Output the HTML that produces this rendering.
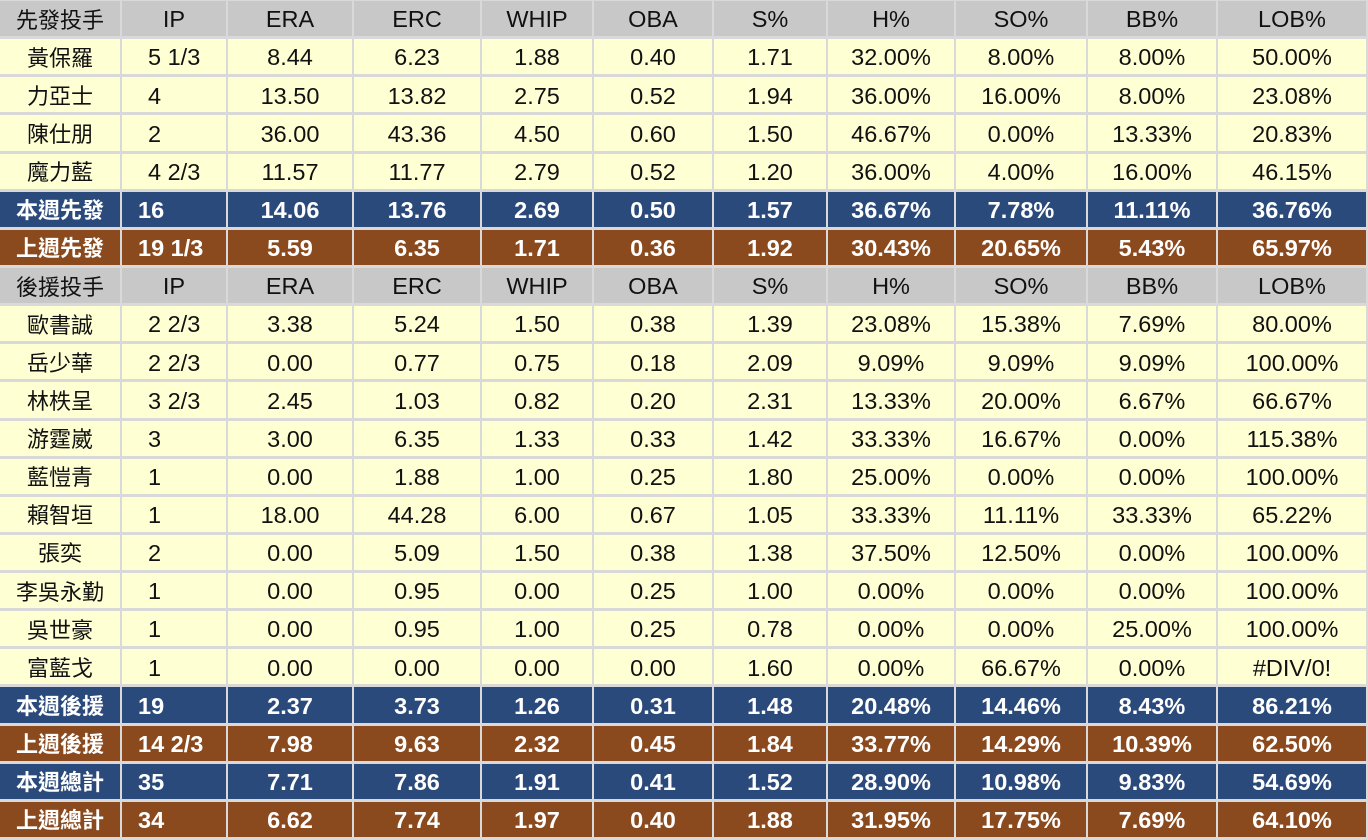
<!DOCTYPE html>
<html><head><meta charset="utf-8"><style>
html,body{margin:0;padding:0;background:#d9d9d9;}
.g{position:absolute;left:0;top:1px;width:1368px;height:836px;display:grid;
grid-template-columns:120px 104px 124px 126px 110px 118px 112px 126px 130px 128px 148px;
grid-template-rows:repeat(22,1fr);column-gap:2px;row-gap:3px;
font-family:"Liberation Sans",sans-serif;font-size:23.5px;}
.g div{display:flex;align-items:center;justify-content:center;background:#ffffd4;color:#111;white-space:nowrap;padding-top:3px;box-sizing:border-box;line-height:1;}
.g div.n{font-family:"Noto Sans CJK TC",sans-serif;font-size:22px;padding-top:0;}
.g div.ip{justify-content:flex-start;padding-left:26px;}
.g div.h{background:#c8c8c8;}
.g div.h.ip{justify-content:center;padding-left:0;}
.g div.b{background:#2b4a7c;color:#fff;font-weight:bold;}
.g div.r{background:#8b4a1e;color:#fff;font-weight:bold;}
.g div.b.ip,.g div.r.ip{padding-left:16px;}
</style></head><body>
<div class="g" id="g"></div>
<script>
var rows=[
["h","先發投手","IP","ERA","ERC","WHIP","OBA","S%","H%","SO%","BB%","LOB%"],
["","黃保羅","5 1/3","8.44","6.23","1.88","0.40","1.71","32.00%","8.00%","8.00%","50.00%"],
["","力亞士","4","13.50","13.82","2.75","0.52","1.94","36.00%","16.00%","8.00%","23.08%"],
["","陳仕朋","2","36.00","43.36","4.50","0.60","1.50","46.67%","0.00%","13.33%","20.83%"],
["","魔力藍","4 2/3","11.57","11.77","2.79","0.52","1.20","36.00%","4.00%","16.00%","46.15%"],
["b","本週先發","16","14.06","13.76","2.69","0.50","1.57","36.67%","7.78%","11.11%","36.76%"],
["r","上週先發","19 1/3","5.59","6.35","1.71","0.36","1.92","30.43%","20.65%","5.43%","65.97%"],
["h","後援投手","IP","ERA","ERC","WHIP","OBA","S%","H%","SO%","BB%","LOB%"],
["","歐書誠","2 2/3","3.38","5.24","1.50","0.38","1.39","23.08%","15.38%","7.69%","80.00%"],
["","岳少華","2 2/3","0.00","0.77","0.75","0.18","2.09","9.09%","9.09%","9.09%","100.00%"],
["","林柣呈","3 2/3","2.45","1.03","0.82","0.20","2.31","13.33%","20.00%","6.67%","66.67%"],
["","游霆崴","3","3.00","6.35","1.33","0.33","1.42","33.33%","16.67%","0.00%","115.38%"],
["","藍愷青","1","0.00","1.88","1.00","0.25","1.80","25.00%","0.00%","0.00%","100.00%"],
["","賴智垣","1","18.00","44.28","6.00","0.67","1.05","33.33%","11.11%","33.33%","65.22%"],
["","張奕","2","0.00","5.09","1.50","0.38","1.38","37.50%","12.50%","0.00%","100.00%"],
["","李吳永勤","1","0.00","0.95","0.00","0.25","1.00","0.00%","0.00%","0.00%","100.00%"],
["","吳世豪","1","0.00","0.95","1.00","0.25","0.78","0.00%","0.00%","25.00%","100.00%"],
["","富藍戈","1","0.00","0.00","0.00","0.00","1.60","0.00%","66.67%","0.00%","#DIV/0!"],
["b","本週後援","19","2.37","3.73","1.26","0.31","1.48","20.48%","14.46%","8.43%","86.21%"],
["r","上週後援","14 2/3","7.98","9.63","2.32","0.45","1.84","33.77%","14.29%","10.39%","62.50%"],
["b","本週總計","35","7.71","7.86","1.91","0.41","1.52","28.90%","10.98%","9.83%","54.69%"],
["r","上週總計","34","6.62","7.74","1.97","0.40","1.88","31.95%","17.75%","7.69%","64.10%"]
];
var g=document.getElementById("g"),h="";
rows.forEach(function(r){for(var i=1;i<r.length;i++){var c=r[0];if(i==1)c+=" n";if(i==2)c+=" ip";h+='<div class="'+c+'">'+r[i]+'</div>';}});
g.innerHTML=h;
</script>
</body></html>
